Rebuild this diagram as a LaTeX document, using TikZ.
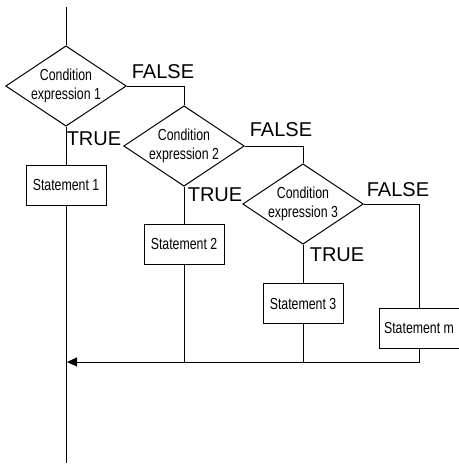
\documentclass[tikz,border=0pt]{standalone}
\usepackage{fontspec}
\setmainfont{Liberation Sans}
\newfontfamily\narrowfont[FakeStretch=0.77]{Liberation Sans}
\usetikzlibrary{shapes.geometric,arrows.meta}

\tikzset{every picture/.style={line width=0.75pt}}
\tikzset{
  cond/.style={diamond, draw, shape aspect=1.5, inner sep=0pt, minimum width=88.5pt, minimum height=58.5pt, align=center, font=\narrowfont\fontsize{12}{14.2}\selectfont},
  stmt/.style={rectangle, draw, inner sep=1pt, minimum width=60pt, minimum height=30pt, font=\narrowfont\fontsize{12}{14.2}\selectfont},
  lbl/.style={inner sep=0pt, font=\fontsize{15}{18}\selectfont}
}

\begin{document}
\begin{tikzpicture}[x=0.75pt,y=0.75pt,yscale=-1,xscale=1]
\useasboundingbox (0,0) rectangle (459,464);

%Shape: Diamond [id:c1]
\node [cond] (c1) at (66,86) {Condition\\expression 1};
%Shape: Diamond [id:c2]
\node [cond] (c2) at (184,146) {Condition\\expression 2};
%Shape: Diamond [id:c3]
\node [cond] (c3) at (303,204) {Condition\\expression 3};

%Shape: Rectangle [id:s1]
\node [stmt] (s1) at (66,185) {Statement 1};
%Shape: Rectangle [id:s2]
\node [stmt] (s2) at (184,244) {Statement 2};
%Shape: Rectangle [id:s3]
\node [stmt] (s3) at (303,303.5) {Statement 3};
%Shape: Rectangle [id:sm]
\node [stmt] (sm) at (419,328) {Statement m};

\coordinate (top) at (66,7);
\coordinate (bot) at (66,463);
\coordinate (join) at (67,362);

%Straight Lines
\draw (top) -- (c1.north);
\draw (c1.south) -- (s1.north);
\draw (s1.south) -- (bot);
\draw (c1.east) -| (c2.north);
\draw (c2.south) -- (s2.north);
\draw (c2.east) -| (c3.north);
\draw (c3.south) -- (s3.north);
\draw (c3.east) -| (sm.north);
\draw (s2.south) -- (s2.south |- join);
\draw (s3.south) -- (s3.south |- join);
\draw [-{Triangle[length=7.5pt,width=6.75pt]}] (sm.south) |- (join);

% Text Node
\node [lbl] (f1) at (163,72) {FALSE};
% Text Node
\node [lbl] (f2) at (281,130) {FALSE};
% Text Node
\node [lbl] (f3) at (398,190) {FALSE};
% Text Node
\node [lbl] (t1) at (94,139) {TRUE};
% Text Node
\node [lbl] (t2) at (215,194.5) {TRUE};
% Text Node
\node [lbl] (t3) at (337,254.5) {TRUE};

\end{tikzpicture}
\end{document}
